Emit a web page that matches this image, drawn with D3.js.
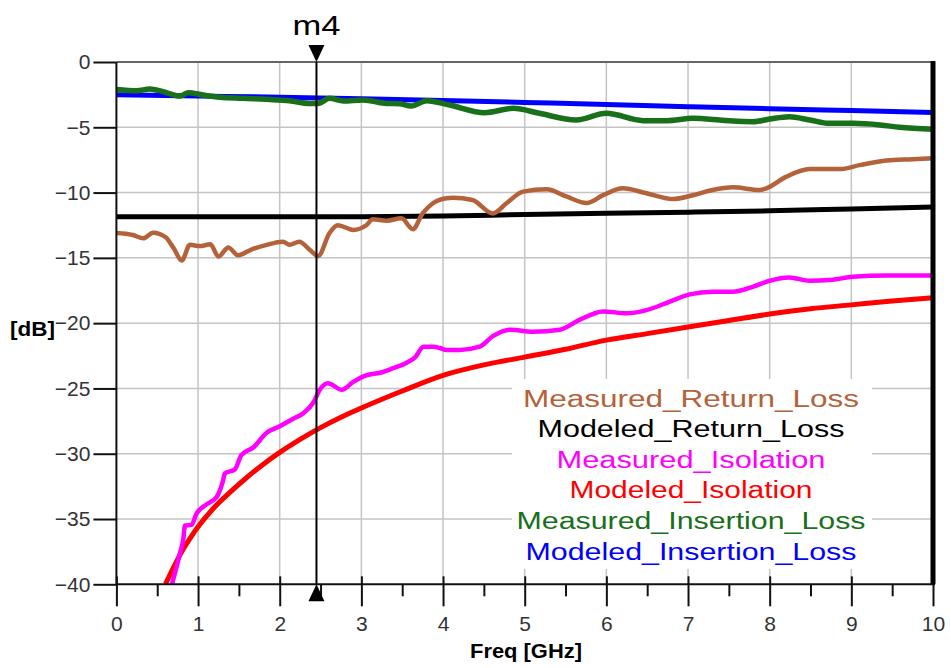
<!DOCTYPE html>
<html>
<head>
<meta charset="utf-8">
<script src="https://cdn.jsdelivr.net/npm/d3@7"></script>
<style>
  body { margin: 0; background: #fff; }
  text { font-family: "Liberation Sans", Arial, sans-serif; }
</style>
</head>
<body>
<svg id="chart" width="951" height="668"></svg>
<script>
// values (GHz, dB)
var measRLFreq = [0, 0.2, 0.33, 0.45, 0.6, 0.7, 0.8, 0.9, 1.02, 1.15, 1.25, 1.37, 1.49, 1.64, 1.84, 2.04, 2.12, 2.24, 2.37, 2.47,
    2.61, 2.71, 2.9, 3.06, 3.14, 3.31, 3.49, 3.63, 3.75, 3.88, 4.04, 4.12, 4.36, 4.61, 4.78, 4.98, 5.27, 5.51, 5.76, 5.96,
    6.2, 6.49, 6.82, 7.06, 7.3, 7.55, 7.88, 7.96, 8.2, 8.49, 8.86, 9.1, 9.43, 9.75, 10]
var measRL = [-13.1, -13.25, -13.5, -13.07, -13.4, -14.25, -15.2, -14.0, -14.1, -13.96, -14.9, -14.2, -14.8, -14.4, -14.0, -13.76, -14.0, -13.76, -14.4, -14.86,
    -13.1, -12.5, -12.86, -12.5, -12.05, -12.15, -11.97, -12.8, -11.6, -10.8, -10.44, -10.4, -10.57, -11.6, -10.8, -9.93, -9.75, -10.3, -10.8, -10.2,
    -9.67, -10.05, -10.5, -10.2, -9.8, -9.6, -9.8, -9.67, -8.8, -8.2, -8.2, -7.9, -7.55, -7.45, -7.37]

var modRLFreq = [0, 1, 2, 3, 4, 5, 6, 7, 8, 9, 10]
var modRL = [-11.85, -11.85, -11.85, -11.85, -11.8, -11.68, -11.58, -11.5, -11.4, -11.25, -11.1]

var measIsoFreq = [0.68, 0.78, 0.82, 0.84, 0.92, 0.98, 1.1, 1.23, 1.3, 1.33, 1.45, 1.53, 1.68, 1.84, 2.0, 2.17, 2.29, 2.41, 2.49, 2.59,
    2.76, 2.9, 3.06, 3.23, 3.39, 3.55, 3.66, 3.76, 3.88, 3.96, 4.04, 4.2, 4.45, 4.61, 4.82, 5.1, 5.43, 5.67, 5.96, 6.25,
    6.49, 6.78, 7.02, 7.3, 7.55, 7.8, 8.0, 8.24, 8.49, 8.73, 9.02, 9.43, 10]
var measIso = [-40, -37.6, -36.5, -35.5, -35.45, -34.6, -33.9, -33.3, -32.2, -31.5, -31.2, -30.1, -29.5, -28.4, -27.9, -27.3, -26.9, -26.1, -25.1, -24.6,
    -25.1, -24.5, -24.0, -23.8, -23.45, -23.05, -22.6, -21.8, -21.8, -21.9, -22.05, -22.05, -21.8, -21.0, -20.5, -20.65, -20.5, -19.75, -19.1, -19.25,
    -19.0, -18.35, -17.8, -17.6, -17.6, -17.2, -16.75, -16.5, -16.75, -16.7, -16.45, -16.35, -16.35]

var modIsoFreq = [0.6, 0.7, 0.8, 0.9, 1.0, 1.2, 1.4, 1.6, 1.8, 2.0, 2.25, 2.5, 2.75, 3.0, 3.5, 4.0, 4.5, 5.0, 5.5, 6.0, 6.5, 7.0, 7.5, 8.0, 8.5, 9.0, 9.5, 10]
var modIso = [-40, -38.7, -37.5, -36.5, -35.6, -34.1, -32.9, -31.8, -30.8, -29.9, -28.9, -28.0, -27.2, -26.5, -25.2, -24.0, -23.2, -22.6, -22.0, -21.3,
    -20.8, -20.3, -19.8, -19.3, -18.9, -18.6, -18.3, -18.05]

var measILFreq = [0, 0.25, 0.41, 0.57, 0.78, 0.88, 1.06, 1.27, 1.55, 1.84, 2.12, 2.37, 2.47, 2.61, 2.78, 3.02, 3.31, 3.47, 3.61, 3.8,
    4.08, 4.51, 4.86, 5.18, 5.63, 6.0, 6.45, 6.74, 7.06, 7.39, 7.55, 7.8, 8.0, 8.24, 8.49, 8.73, 9.02, 9.35, 9.59, 10]
var measIL = [-2.1, -2.2, -2.07, -2.27, -2.6, -2.35, -2.53, -2.7, -2.78, -2.86, -2.96, -3.17, -3.17, -2.78, -2.99, -2.91, -3.17, -3.2, -3.37, -2.96,
    -3.29, -3.88, -3.55, -3.93, -4.44, -3.93, -4.49, -4.49, -4.31, -4.44, -4.52, -4.57, -4.37, -4.19, -4.44, -4.7, -4.7, -4.82, -5.0, -5.15]

var modILFreq = [0, 1, 2, 3, 4, 5, 6, 7, 8, 9, 10]
var modIL = [-2.5, -2.6, -2.7, -2.82, -2.95, -3.1, -3.25, -3.42, -3.58, -3.72, -3.86]

var xTicks = [0, 1, 2, 3, 4, 5, 6, 7, 8, 9, 10]
var xMinorTicks = [0.5, 1.5, 2.5, 3.5, 4.5, 5.5, 6.5, 7.5, 8.5, 9.5]
var yTicks = [0, -5, -10, -15, -20, -25, -30, -35, -40]
var markerFreq = 2.45

var seriesNames = ['Measured_Return_Loss', 'Modeled_Return_Loss', 'Measured_Isolation', 'Modeled_Isolation', 'Measured_Insertion_Loss', 'Modeled_Insertion_Loss']
var seriesColors = ['#B3623A', '#000000', '#FF00FF', '#FF0000', '#18701A', '#0000FF']
var legendWidths = [336, 307, 269, 243, 349, 331]

var svg = d3.select('#chart'),
    pLeft = 116.4, pRight = 933, pTop = 62, pBottom = 584.3,
    x = d3.scaleLinear().domain([0, 10]).range([pLeft, pRight]),
    y = d3.scaleLinear().domain([-40, 0]).range([pBottom, pTop])

// grid
var grid = svg.append('g').attr('stroke', '#c4c4c4').attr('stroke-width', 1.5)
grid.selectAll('.gx').data(xTicks.slice(1, -1)).enter().append('line')
    .attr('x1', d => x(d)).attr('x2', d => x(d)).attr('y1', pTop).attr('y2', pBottom)
grid.selectAll('.gy').data(yTicks.slice(1, -1)).enter().append('line')
    .attr('x1', pLeft).attr('x2', pRight).attr('y1', d => y(d)).attr('y2', d => y(d))

// legend background hides the grid
svg.append('rect').attr('x', 512).attr('y', 379).attr('width', 360).attr('height', 190).attr('fill', '#fff')

svg.append('clipPath').attr('id', 'plot').append('rect')
    .attr('x', pLeft).attr('y', pTop - 3).attr('width', pRight - pLeft).attr('height', pBottom - pTop + 3)

var line = d3.line().x(d => x(d[0])).y(d => y(d[1])).curve(d3.curveMonotoneX)
var curves = [
    [modILFreq, modIL, 5], [measILFreq, measIL, 5.5],
    [modRLFreq, modRL, 5], [measRLFreq, measRL, 4.5],
    [modIsoFreq, modIso, 5], [measIsoFreq, measIso, 4.5]
]
var curveColors = [seriesColors[5], seriesColors[4], seriesColors[1], seriesColors[0], seriesColors[3], seriesColors[2]]
var plot = svg.append('g').attr('clip-path', 'url(#plot)')
curves.forEach(function (c, i) {
    plot.append('path')
        .datum(d3.zip(c[0], c[1]))
        .attr('d', line)
        .attr('fill', 'none')
        .attr('stroke', curveColors[i])
        .attr('stroke-width', c[2])
        .attr('stroke-linejoin', 'round')
})

// axes
var xAxis = svg.append('g').attr('transform', 'translate(0,' + pBottom + ')')
    .call(d3.axisBottom(x).tickValues(xTicks).tickSize(22).tickPadding(10).tickFormat(d3.format('d')))
xAxis.selectAll('.tick line').attr('y1', -8)
var xMinor = svg.append('g').attr('transform', 'translate(0,' + pBottom + ')')
    .call(d3.axisBottom(x).tickValues(xMinorTicks).tickSize(12).tickFormat(''))
var yAxis = svg.append('g').attr('transform', 'translate(' + pLeft + ',0)')
    .call(d3.axisLeft(y).tickValues(yTicks).tickSize(23).tickPadding(3).tickFormat(d3.format('d')))

;[xAxis, xMinor, yAxis].forEach(function (g) {
    g.select('.domain').remove()
    g.selectAll('.tick line').attr('stroke', '#111').attr('stroke-width', 2)
    g.selectAll('.tick text').attr('fill', '#333').style('font-size', '21px')
        .style('font-family', '"Liberation Sans", Arial, sans-serif')
})

svg.append('line').attr('x1', pLeft).attr('x2', pRight).attr('y1', pTop).attr('y2', pTop)
    .attr('stroke', '#666').attr('stroke-width', 2)
svg.append('line').attr('x1', pLeft).attr('x2', pRight + 2).attr('y1', pBottom).attr('y2', pBottom)
    .attr('stroke', '#111').attr('stroke-width', 2)
svg.append('line').attr('x1', pLeft).attr('x2', pLeft).attr('y1', pTop).attr('y2', pBottom)
    .attr('stroke', '#111').attr('stroke-width', 2)
svg.append('line').attr('x1', pRight).attr('x2', pRight).attr('y1', pTop - 1).attr('y2', pBottom)
    .attr('stroke', '#000').attr('stroke-width', 5)

// marker m4
var mx = x(markerFreq)
svg.append('line').attr('x1', mx).attr('x2', mx).attr('y1', pTop).attr('y2', pBottom)
    .attr('stroke', '#000').attr('stroke-width', 2)
svg.append('path').attr('d', 'M' + (mx - 8) + ',' + (pTop - 17) + 'L' + (mx + 8) + ',' + (pTop - 17) + 'L' + mx + ',' + pTop + 'Z')
svg.append('path').attr('d', 'M' + (mx - 8) + ',' + (pBottom + 17) + 'L' + (mx + 8) + ',' + (pBottom + 17) + 'L' + mx + ',' + pBottom + 'Z')
svg.append('text').attr('x', mx).attr('y', 35).attr('text-anchor', 'middle')
    .attr('textLength', 48).attr('lengthAdjust', 'spacingAndGlyphs')
    .style('font-size', '28px').text('m4')

// legend
svg.append('g').selectAll('text').data(seriesNames).enter().append('text')
    .attr('x', 691).attr('y', (d, i) => 406.5 + i * 30.6)
    .attr('text-anchor', 'middle')
    .attr('textLength', (d, i) => legendWidths[i]).attr('lengthAdjust', 'spacingAndGlyphs')
    .attr('fill', (d, i) => seriesColors[i])
    .style('font-size', '23px')
    .text(d => d)

// axis titles
svg.append('text').attr('x', 10).attr('y', 336)
    .attr('textLength', 45).attr('lengthAdjust', 'spacingAndGlyphs')
    .style('font-size', '20px').style('font-weight', 'bold').text('[dB]')
svg.append('text').attr('x', 526).attr('y', 658).attr('text-anchor', 'middle')
    .attr('textLength', 112).attr('lengthAdjust', 'spacingAndGlyphs')
    .style('font-size', '20px').style('font-weight', 'bold').text('Freq [GHz]')
</script>
</body>
</html>
